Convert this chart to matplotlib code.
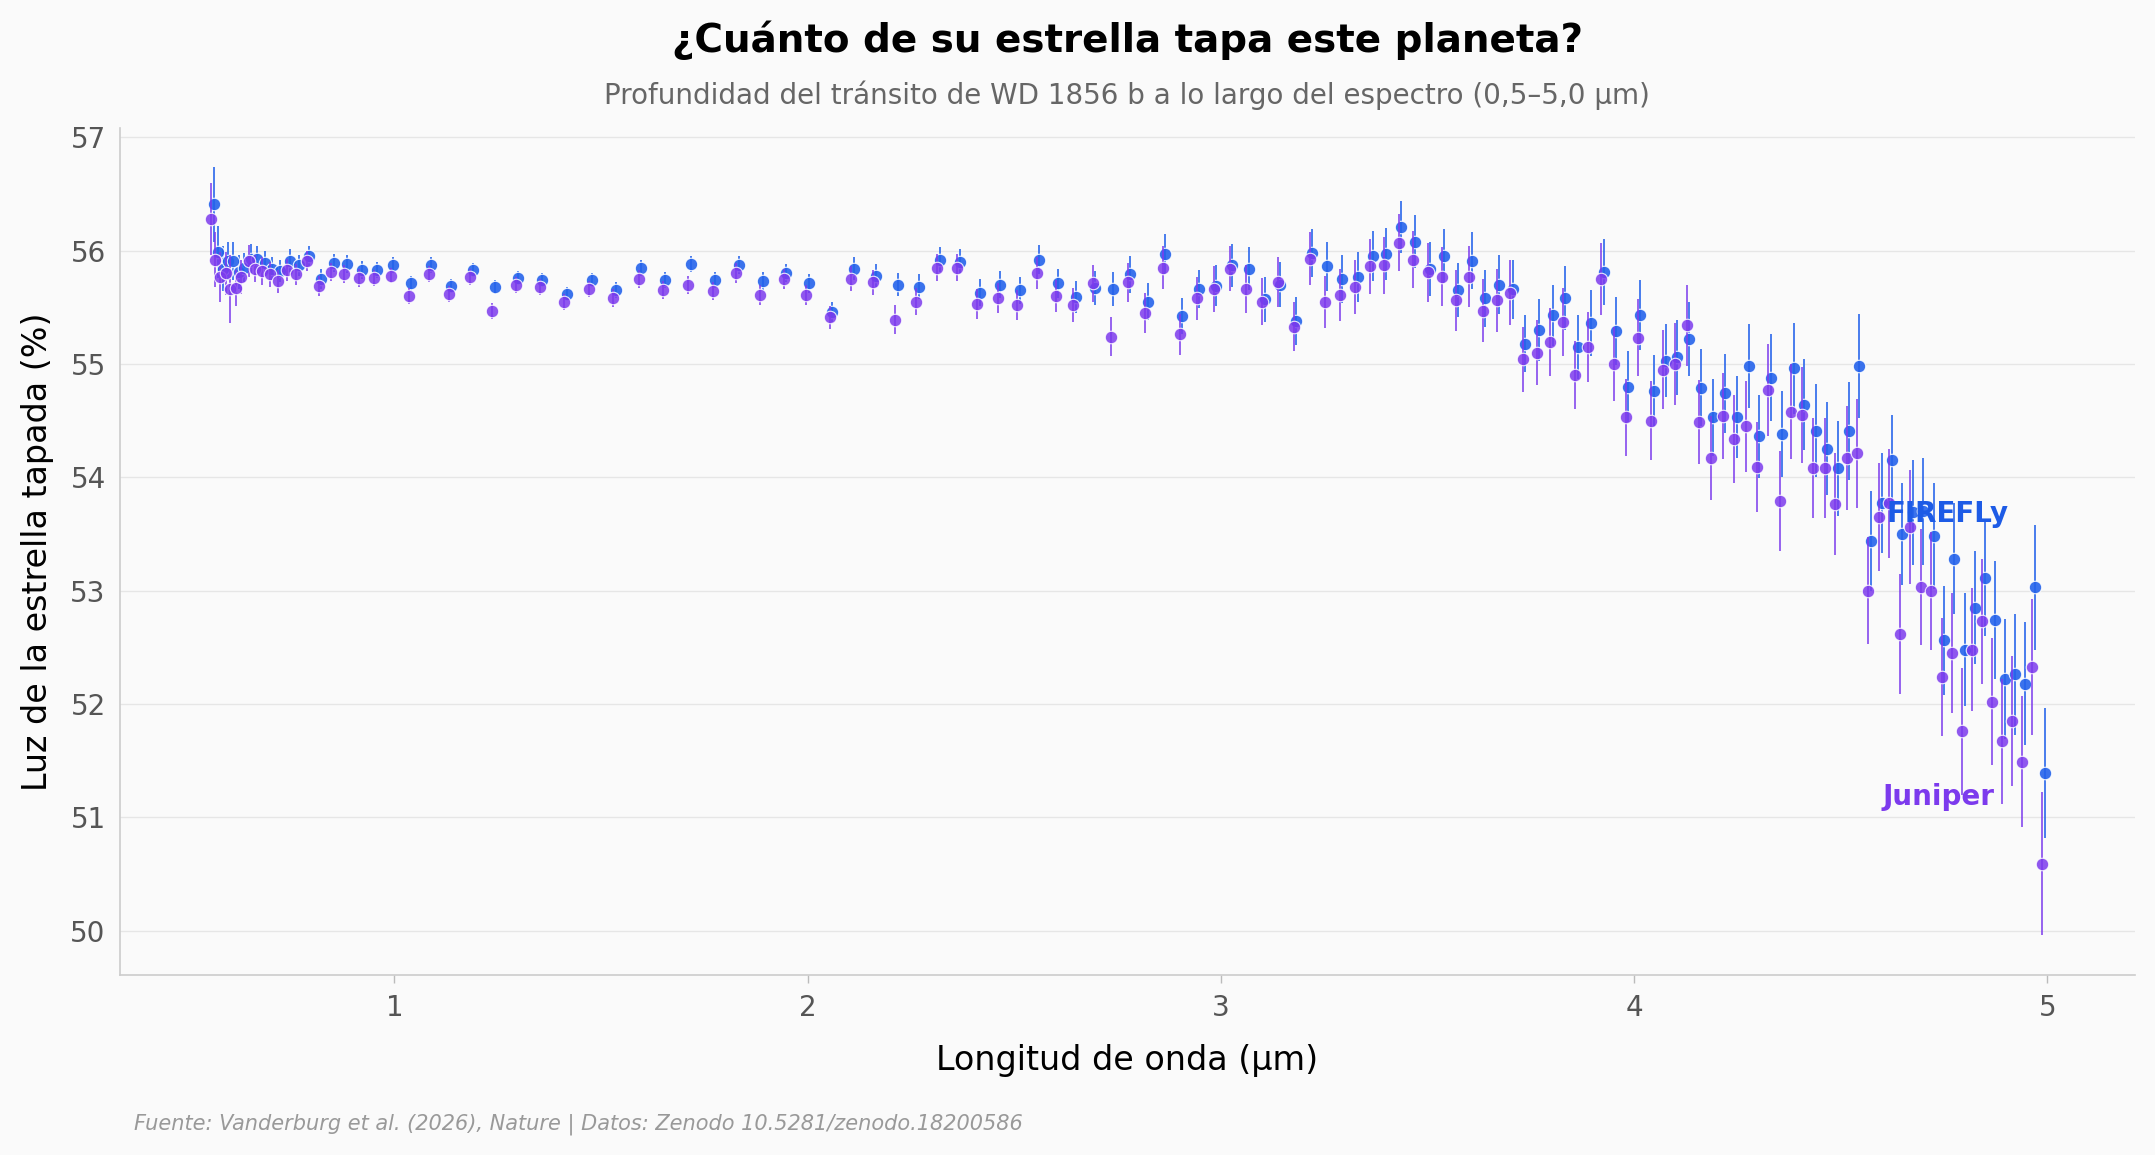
import matplotlib
matplotlib.use("Agg")
from matplotlib import pyplot as plt
import numpy as np

# wavelength of each spectral bin (um)
wavelength = [
    0.560, 0.570, 0.582, 0.595, 0.606, 0.620, 0.632, 0.651, 0.665, 0.683,
    0.701, 0.721, 0.744, 0.766, 0.791, 0.820, 0.850, 0.882, 0.918, 0.954,
    0.994, 1.038, 1.086, 1.135, 1.186, 1.240, 1.297, 1.355, 1.414, 1.475,
    1.533, 1.594, 1.653, 1.714, 1.773, 1.830, 1.888, 1.945, 2.000, 2.056,
    2.109, 2.162, 2.215, 2.266, 2.317, 2.365, 2.414, 2.463, 2.510, 2.557,
    2.603, 2.646, 2.693, 2.736, 2.778, 2.820, 2.863, 2.904, 2.945, 2.986,
    3.025, 3.065, 3.103, 3.141, 3.180, 3.218, 3.255, 3.291, 3.328, 3.364,
    3.397, 3.434, 3.467, 3.504, 3.538, 3.571, 3.604, 3.637, 3.671, 3.703,
    3.734, 3.768, 3.800, 3.830, 3.861, 3.892, 3.923, 3.954, 3.983, 4.012,
    4.044, 4.073, 4.102, 4.131, 4.160, 4.189, 4.217, 4.245, 4.274, 4.300,
    4.328, 4.356, 4.383, 4.409, 4.437, 4.464, 4.490, 4.517, 4.542, 4.570,
    4.596, 4.621, 4.646, 4.671, 4.697, 4.722, 4.747, 4.772, 4.797, 4.821,
    4.846, 4.870, 4.894, 4.918, 4.942, 4.967, 4.991,
]

firefly = [
    56.41, 55.99, 55.84, 55.91, 55.91, 55.81, 55.85, 55.93, 55.93, 55.89,
    55.84, 55.82, 55.91, 55.87, 55.95, 55.75, 55.89, 55.88, 55.83, 55.83,
    55.87, 55.71, 55.87, 55.69, 55.83, 55.68, 55.76, 55.74, 55.62, 55.74,
    55.65, 55.85, 55.74, 55.88, 55.74, 55.87, 55.73, 55.80, 55.71, 55.46,
    55.84, 55.78, 55.70, 55.68, 55.92, 55.90, 55.63, 55.70, 55.65, 55.92,
    55.71, 55.59, 55.67, 55.66, 55.79, 55.55, 55.97, 55.42, 55.66, 55.69,
    55.87, 55.84, 55.57, 55.70, 55.38, 55.98, 55.86, 55.75, 55.77, 55.95,
    55.97, 56.21, 56.08, 55.84, 55.95, 55.65, 55.91, 55.58, 55.70, 55.66,
    55.18, 55.30, 55.43, 55.58, 55.15, 55.36, 55.81, 55.29, 54.80, 55.43,
    54.76, 55.03, 55.06, 55.22, 54.79, 54.53, 54.74, 54.53, 54.98, 54.36,
    54.88, 54.38, 54.96, 54.64, 54.41, 54.25, 54.08, 54.41, 54.98, 53.44,
    53.77, 54.15, 53.50, 53.69, 53.70, 53.48, 52.56, 53.28, 52.48, 52.85,
    53.11, 52.74, 52.22, 52.26, 52.18, 53.03, 51.39,
]

juniper = [
    56.28, 55.92, 55.77, 55.80, 55.66, 55.67, 55.77, 55.91, 55.84, 55.82,
    55.79, 55.73, 55.83, 55.79, 55.91, 55.69, 55.81, 55.79, 55.76, 55.76,
    55.78, 55.60, 55.79, 55.62, 55.77, 55.47, 55.70, 55.68, 55.55, 55.66,
    55.58, 55.75, 55.65, 55.70, 55.64, 55.80, 55.61, 55.75, 55.61, 55.41,
    55.75, 55.72, 55.39, 55.55, 55.85, 55.85, 55.53, 55.58, 55.52, 55.80,
    55.60, 55.52, 55.71, 55.24, 55.72, 55.45, 55.85, 55.26, 55.58, 55.66,
    55.84, 55.66, 55.55, 55.72, 55.33, 55.93, 55.55, 55.61, 55.68, 55.86,
    55.87, 56.07, 55.92, 55.81, 55.77, 55.56, 55.77, 55.47, 55.56, 55.63,
    55.04, 55.10, 55.19, 55.37, 54.90, 55.15, 55.75, 55.00, 54.53, 55.23,
    54.50, 54.95, 55.00, 55.34, 54.49, 54.17, 54.54, 54.34, 54.45, 54.09,
    54.77, 53.79, 54.58, 54.55, 54.08, 54.08, 53.76, 54.17, 54.21, 53.00,
    53.65, 53.77, 52.62, 53.56, 53.03, 53.00, 52.24, 52.45, 51.76, 52.48,
    52.73, 52.02, 51.67, 51.85, 51.49, 52.33, 50.59,
]

# 1-sigma uncertainties
err_firefly = [
    0.33, 0.23, 0.20, 0.17, 0.17, 0.15, 0.13, 0.13, 0.11, 0.11,
    0.10, 0.10, 0.10, 0.09, 0.09, 0.09, 0.08, 0.08, 0.08, 0.07,
    0.07, 0.07, 0.07, 0.06, 0.06, 0.06, 0.06, 0.06, 0.06, 0.06,
    0.07, 0.07, 0.07, 0.07, 0.07, 0.08, 0.08, 0.08, 0.08, 0.09,
    0.10, 0.10, 0.10, 0.11, 0.11, 0.11, 0.12, 0.12, 0.12, 0.13,
    0.13, 0.14, 0.15, 0.15, 0.16, 0.16, 0.18, 0.16, 0.17, 0.18,
    0.19, 0.19, 0.20, 0.20, 0.21, 0.21, 0.22, 0.21, 0.22, 0.22,
    0.23, 0.23, 0.23, 0.24, 0.24, 0.24, 0.25, 0.25, 0.26, 0.26,
    0.25, 0.27, 0.27, 0.28, 0.28, 0.29, 0.29, 0.30, 0.31, 0.31,
    0.32, 0.32, 0.33, 0.33, 0.34, 0.34, 0.35, 0.36, 0.37, 0.37,
    0.38, 0.38, 0.40, 0.40, 0.41, 0.41, 0.42, 0.43, 0.46, 0.44,
    0.44, 0.40, 0.45, 0.46, 0.47, 0.47, 0.48, 0.49, 0.50, 0.50,
    0.51, 0.52, 0.53, 0.53, 0.54, 0.55, 0.57,
]

err_juniper = [
    0.32, 0.24, 0.22, 0.19, 0.30, 0.16, 0.15, 0.14, 0.12, 0.12,
    0.11, 0.10, 0.10, 0.09, 0.09, 0.09, 0.08, 0.08, 0.08, 0.07,
    0.07, 0.07, 0.07, 0.07, 0.07, 0.07, 0.07, 0.07, 0.07, 0.07,
    0.08, 0.08, 0.08, 0.08, 0.08, 0.09, 0.09, 0.09, 0.09, 0.10,
    0.11, 0.11, 0.13, 0.12, 0.12, 0.12, 0.13, 0.13, 0.13, 0.14,
    0.14, 0.15, 0.16, 0.17, 0.17, 0.18, 0.19, 0.18, 0.19, 0.20,
    0.20, 0.21, 0.21, 0.22, 0.22, 0.23, 0.23, 0.23, 0.24, 0.24,
    0.25, 0.25, 0.25, 0.26, 0.26, 0.27, 0.27, 0.28, 0.28, 0.29,
    0.29, 0.29, 0.30, 0.30, 0.30, 0.31, 0.32, 0.33, 0.34, 0.34,
    0.35, 0.35, 0.36, 0.36, 0.37, 0.37, 0.38, 0.39, 0.40, 0.40,
    0.41, 0.44, 0.42, 0.42, 0.44, 0.44, 0.45, 0.46, 0.48, 0.47,
    0.48, 0.48, 0.53, 0.50, 0.51, 0.52, 0.52, 0.53, 0.56, 0.54,
    0.55, 0.56, 0.55, 0.57, 0.58, 0.60, 0.63,
]

blue = '#2563eb'
purple = '#7c3aed'
bg = '#fafafa'

wl = np.array(wavelength)

fig = plt.figure(figsize=(21.55, 11.55), dpi=100, facecolor=bg)
ax = fig.add_axes([0.0555, 0.156, 0.935, 0.733])
ax.set_facecolor(bg)

# FIREFLy first, Juniper on top (slight horizontal dodge)
ax.errorbar(wl + 0.003, firefly, yerr=err_firefly, fmt='o', color=blue,
            ecolor=blue, elinewidth=1.3, capsize=0, markersize=9,
            markeredgecolor='white', markeredgewidth=0.8, alpha=0.9, zorder=3)
ax.errorbar(wl - 0.003, juniper, yerr=err_juniper, fmt='o', color=purple,
            ecolor=purple, elinewidth=1.3, capsize=0, markersize=9,
            markeredgecolor='white', markeredgewidth=0.8, alpha=0.85, zorder=4)

ax.text(4.61, 53.68, 'FIREFLy', color='#1d5be6', fontsize=20, fontweight='bold',
        va='center', ha='left', zorder=6)
ax.text(4.60, 51.18, 'Juniper', color='#7c3aed', fontsize=20, fontweight='bold',
        va='center', ha='left', zorder=6)

ax.set_xlim(min(wavelength) - 0.225, max(wavelength) + 0.22)
ax.set_ylim(49.61, 57.08)
ax.set_xticks([1, 2, 3, 4, 5])
ax.set_yticks([50, 51, 52, 53, 54, 55, 56, 57])

ax.grid(axis='y', color='#e6e6e6', linewidth=1)
ax.set_axisbelow(True)
for s in ['top', 'right']:
    ax.spines[s].set_visible(False)
for s in ['left', 'bottom']:
    ax.spines[s].set_color('#cccccc')
    ax.spines[s].set_linewidth(1.2)
ax.tick_params(axis='x', labelsize=20, length=6, width=1, pad=8, color='#bbbbbb')
ax.tick_params(axis='y', labelsize=20, length=0, pad=10)
for lab in ax.get_xticklabels() + ax.get_yticklabels():
    lab.set_color('#555555')

ax.set_xlabel('Longitud de onda (µm)', fontsize=24, labelpad=16)
ax.set_ylabel('Luz de la estrella tapada (%)', fontsize=24, labelpad=12)

# title block centred over the axes
ax.text(0.5, 1.104, '¿Cuánto de su estrella tapa este planeta?', transform=ax.transAxes,
        ha='center', va='center', fontsize=28, fontweight='bold')
ax.text(0.5, 1.039, 'Profundidad del tránsito de WD 1856 b a lo largo del espectro (0,5–5,0 µm)',
        transform=ax.transAxes, ha='center', va='center', fontsize=20, color='#666666')
fig.text(0.062, 0.027, 'Fuente: Vanderburg et al. (2026), Nature | Datos: Zenodo 10.5281/zenodo.18200586',
         ha='left', va='center', fontsize=15, color='#999999', style='italic')

fig.savefig('out.png', dpi=100, facecolor=bg)
